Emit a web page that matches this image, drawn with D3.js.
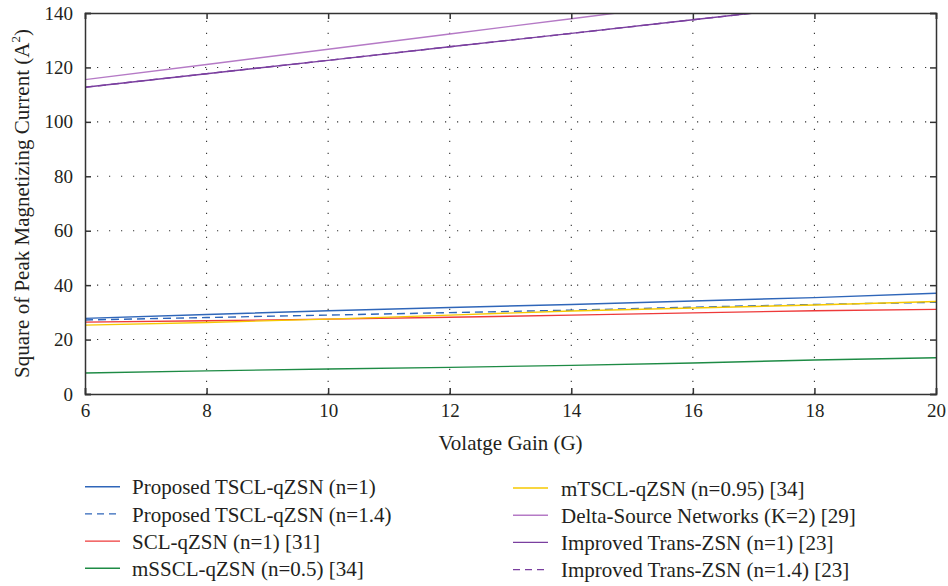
<!DOCTYPE html>
<html>
<head>
<meta charset="utf-8">
<script src="https://cdn.jsdelivr.net/npm/d3@7"></script>
<style>
  html, body { margin: 0; padding: 0; background: #fff; }
  svg text { font-family: "Liberation Serif", "DejaVu Serif", serif; fill: #231f20; }
</style>
</head>
<body>
<svg id="chart" width="948" height="586"></svg>
<script>
// Voltage gain samples
const gain = [6, 8, 10, 12, 14, 16, 18, 20];

// Square of peak magnetizing current (A^2) per topology
const tsclN1   = [27.8, 29.2, 30.6, 31.8, 32.9, 34.2, 35.4, 37.0];
const tsclN14  = [27.2, 28.1, 29.0, 29.9, 30.8, 31.9, 32.9, 33.7];
const sclN1    = [26.4, 26.9, 27.5, 28.2, 29.0, 29.8, 30.6, 31.1];
const msscl    = [7.7, 8.5, 9.2, 9.8, 10.5, 11.4, 12.5, 13.3];
const mtscl    = [25.3, 26.3, 27.5, 29.0, 30.5, 31.6, 32.7, 34.0];
const deltaK2  = [115.5, 121.1, 126.7, 132.3, 137.9, 143.5, 149.1, 154.7];
const transN1  = [112.7, 117.7, 122.6, 127.6, 132.5, 137.5, 142.5, 147.4];
const transN14 = [112.7, 117.7, 122.6, 127.6, 132.5, 137.5, 142.5, 147.4];

const xTicks = [6, 8, 10, 12, 14, 16, 18, 20];
const yTicks = [0, 20, 40, 60, 80, 100, 120, 140];

const series = [
  { name: "Proposed TSCL-qZSN (n=1)",        values: tsclN1,   color: "#2f66b9", dash: null },
  { name: "Proposed TSCL-qZSN (n=1.4)",      values: tsclN14,  color: "#2f66b9", dash: "8,5" },
  { name: "SCL-qZSN (n=1) [31]",             values: sclN1,    color: "#ee3a3a", dash: null },
  { name: "mSSCL-qZSN (n=0.5) [34]",         values: msscl,    color: "#1e8b45", dash: null },
  { name: "mTSCL-qZSN (n=0.95) [34]",        values: mtscl,    color: "#f6c800", dash: null },
  { name: "Delta-Source Networks (K=2) [29]",values: deltaK2,  color: "#b57ac6", dash: null },
  { name: "Improved Trans-ZSN (n=1) [23]",   values: transN1,  color: "#7a3f9f", dash: null },
  { name: "Improved Trans-ZSN (n=1.4) [23]", values: transN14, color: "#7a3f9f", dash: "8,5" }
];

const svg = d3.select("#chart");
const m = { left: 85, right: 12, top: 13, bottom: 192 };
const W = 948, H = 586;
const x = d3.scaleLinear().domain([6, 20]).range([m.left, W - m.right]);
const y = d3.scaleLinear().domain([0, 140]).range([H - m.bottom, m.top]);

// dotted grid
const grid = svg.append("g").attr("stroke", "#333").attr("stroke-width", 1.1)
  .attr("stroke-dasharray", "1.2,10.8");
grid.selectAll(".gx").data(xTicks.slice(1, -1)).join("line")
  .attr("x1", d => x(d)).attr("x2", d => x(d))
  .attr("y1", y(0)).attr("y2", y(140));
grid.selectAll(".gy").data(yTicks.slice(1, -1)).join("line")
  .attr("x1", x(6)).attr("x2", x(20))
  .attr("y1", d => y(d)).attr("y2", d => y(d));

// clip region for the curves
svg.append("clipPath").attr("id", "plot")
  .append("rect").attr("x", x(6)).attr("y", y(140))
  .attr("width", x(20) - x(6)).attr("height", y(0) - y(140));

const line = d3.line().x((d, i) => x(gain[i])).y(d => y(d));
const curves = svg.append("g").attr("clip-path", "url(#plot)");
curves.selectAll("path").data(series).join("path")
  .attr("d", d => line(d.values))
  .attr("fill", "none")
  .attr("stroke", d => d.color)
  .attr("stroke-width", 1.4)
  .attr("stroke-dasharray", d => d.dash);

// axes with inward ticks on all four sides
const tick = 6;
const axB = svg.append("g").attr("transform", `translate(0,${y(0)})`)
  .call(d3.axisBottom(x).tickValues(xTicks).tickSize(-tick).tickPadding(10).tickFormat(d3.format("d")));
const axT = svg.append("g").attr("transform", `translate(0,${y(140)})`)
  .call(d3.axisTop(x).tickValues(xTicks).tickSize(-tick).tickFormat(""));
const axL = svg.append("g").attr("transform", `translate(${x(6)},0)`)
  .call(d3.axisLeft(y).tickValues(yTicks).tickSize(-tick).tickPadding(12).tickFormat(d3.format("d")));
const axR = svg.append("g").attr("transform", `translate(${x(20)},0)`)
  .call(d3.axisRight(y).tickValues(yTicks).tickSize(-tick).tickFormat(""));
[axB, axT, axL, axR].forEach(a => {
  a.select(".domain").attr("stroke", "#333").attr("stroke-width", 1.5);
  a.selectAll(".tick line").attr("stroke", "#333").attr("stroke-width", 1.5);
  a.selectAll("text").attr("font-size", 19).attr("fill", "#231f20")
    .attr("font-family", "Liberation Serif, DejaVu Serif, serif");
});

// axis titles
svg.append("text").attr("x", x(13)).attr("y", 450)
  .attr("text-anchor", "middle").attr("font-size", 21)
  .text("Volatge Gain (G)");
const yl = svg.append("text")
  .attr("transform", `translate(29,${(y(0) + y(140)) / 2}) rotate(-90)`)
  .attr("text-anchor", "middle").attr("font-size", 21);
yl.append("tspan").text("Square of Peak Magnetizing Current (A");
yl.append("tspan").attr("font-size", 13).attr("dy", -9).text("2");
yl.append("tspan").attr("dy", 9).text(")");

// legend: two columns of four entries
const leg = svg.append("g");
series.forEach((s, i) => {
  const col = Math.floor(i / 4), row = i % 4;
  const lx = col === 0 ? 85 : 513;
  const tx = col === 0 ? 132 : 561;
  const ly = (col === 0 ? 486.7 : 488) + row * 27.2;
  leg.append("line").attr("x1", lx).attr("x2", lx + 35)
    .attr("y1", ly).attr("y2", ly)
    .attr("stroke", s.color).attr("stroke-width", 1.4)
    .attr("stroke-dasharray", s.dash ? "7,5" : null);
  leg.append("text").attr("x", tx).attr("y", ly + 7.6)
    .attr("font-size", 21).text(s.name);
});
</script>
</body>
</html>
